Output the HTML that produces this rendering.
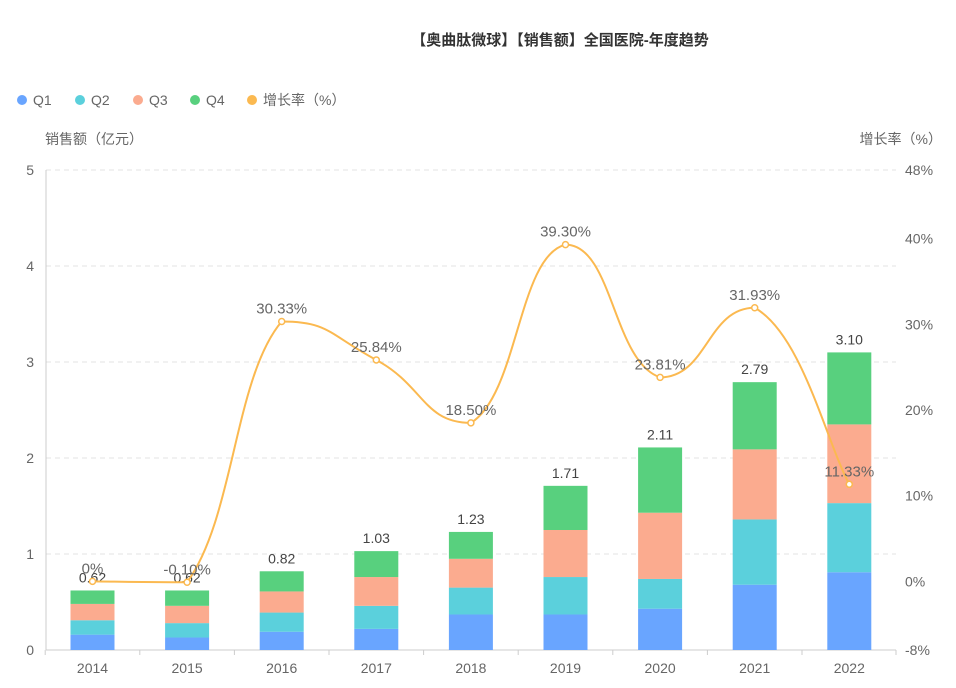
<!DOCTYPE html>
<html><head><meta charset="utf-8"><style>
body{margin:0;background:#fff;}
svg text{font-family:"Liberation Sans","Noto Sans CJK SC",sans-serif;}
</style></head><body>
<svg id="c" width="956" height="683" xmlns="http://www.w3.org/2000/svg">
<text x="560" y="45" text-anchor="middle" font-size="15" font-weight="bold" fill="#333">【奥曲肽微球】【销售额】全国医院-年度趋势</text>
<g font-size="14" fill="#666">
<circle cx="22" cy="100" r="5" fill="#69a5ff"/><text x="33" y="105">Q1</text>
<circle cx="80" cy="100" r="5" fill="#5bd0dc"/><text x="91" y="105">Q2</text>
<circle cx="138" cy="100" r="5" fill="#fbab8f"/><text x="149" y="105">Q3</text>
<circle cx="195" cy="100" r="5" fill="#58d07e"/><text x="206" y="105">Q4</text>
<circle cx="252" cy="100" r="5" fill="#fbb950"/><text x="263" y="105">增长率（%）</text>
<text x="45" y="144">销售额（亿元）</text>
<text x="942" y="144" text-anchor="end">增长率（%）</text>
</g>
<g id="g"></g>
</svg>
<script>
var g=document.getElementById('g'),h='';
var y0=650,ppu=96;
for(var i=0;i<=5;i++){var y=y0-i*ppu;
 h+='<line x1="46" x2="896" y1="'+y+'" y2="'+y+'" stroke="'+(i==0?'#ccc':'#e3e3e3')+'" '+(i==0?'':'stroke-dasharray="5,4"')+'/>';
 h+='<text x="34" y="'+(y+5)+'" text-anchor="end" font-size="14" fill="#666">'+i+'</text>';}
var rl=['-8%','0%','10%','20%','30%','40%','48%'],rv=[-8,0,10,20,30,40,48];
function ry(v){return 581.4-v*8.57;}
for(var i=0;i<rl.length;i++)h+='<text x="905" y="'+(ry(rv[i])+5)+'" font-size="14" fill="#666">'+rl[i]+'</text>';
h+='<line x1="46" x2="46" y1="170" y2="650" stroke="#ccc"/>';
var yrs=[2014,2015,2016,2017,2018,2019,2020,2021,2022];
var d=[[.16,.31,.48,.62],[.13,.28,.46,.62],[.19,.39,.61,.82],[.22,.46,.76,1.03],[.37,.65,.95,1.23],[.37,.76,1.25,1.71],[.43,.74,1.43,2.11],[.68,1.36,2.09,2.79],[.81,1.53,2.35,3.10]];
var col=['#69a5ff','#5bd0dc','#fbab8f','#58d07e'];
var gr=[0,-0.10,30.33,25.84,18.50,39.30,23.81,31.93,11.33];
var lab=['0%','-0.10%','30.33%','25.84%','18.50%','39.30%','23.81%','31.93%','11.33%'];
function cx(i){return 92.5+i*94.6;}
for(var i=0;i<9;i++){var x=cx(i),prev=0;
 h+='<line x1="'+(x-47.3)+'" x2="'+(x-47.3)+'" y1="650" y2="655" stroke="#ccc"/>';
 for(var k=0;k<4;k++){var a=y0-prev*ppu,b=y0-d[i][k]*ppu;
  h+='<rect x="'+(x-22)+'" y="'+b+'" width="44" height="'+(a-b)+'" fill="'+col[k]+'"/>';prev=d[i][k];}
 h+='<text x="'+x+'" y="'+(y0-d[i][3]*ppu-8)+'" text-anchor="middle" font-size="14" fill="#444">'+d[i][3].toFixed(2)+'</text>';
 h+='<text x="'+x+'" y="673" text-anchor="middle" font-size="14" fill="#666">'+yrs[i]+'</text>';}
h+='<line x1="896" x2="896" y1="650" y2="655" stroke="#ccc"/>';
var P=gr.map(function(v,i){return[cx(i),ry(v)];});
var p='M'+P[0][0]+','+P[0][1];
function cl(v,a,b){return Math.min(Math.max(v,Math.min(a,b)),Math.max(a,b));}
for(var i=0;i<8;i++){var p0=P[Math.max(i-1,0)],p1=P[i],p2=P[i+1],p3=P[Math.min(i+2,8)],s=0.25;
 var c1=[p1[0]+(p2[0]-p0[0])*s,p1[1]+(p2[1]-p0[1])*s],c2=[p2[0]-(p3[0]-p1[0])*s,p2[1]-(p3[1]-p1[1])*s];
 c1[1]=cl(c1[1],p1[1],p2[1]);c2[1]=cl(c2[1],p1[1],p2[1]);
 p+=' C'+c1+' '+c2+' '+p2;}
h+='<path d="'+p+'" fill="none" stroke="#fbb950" stroke-width="2"/>';
for(var i=0;i<9;i++){h+='<circle cx="'+P[i][0]+'" cy="'+P[i][1]+'" r="3" fill="#fff" stroke="#fbb950" stroke-width="1.5"/>';
 h+='<text x="'+P[i][0]+'" y="'+(P[i][1]-8)+'" text-anchor="middle" font-size="15" fill="#666">'+lab[i]+'</text>';}
g.innerHTML=h;
</script>
</body></html>
